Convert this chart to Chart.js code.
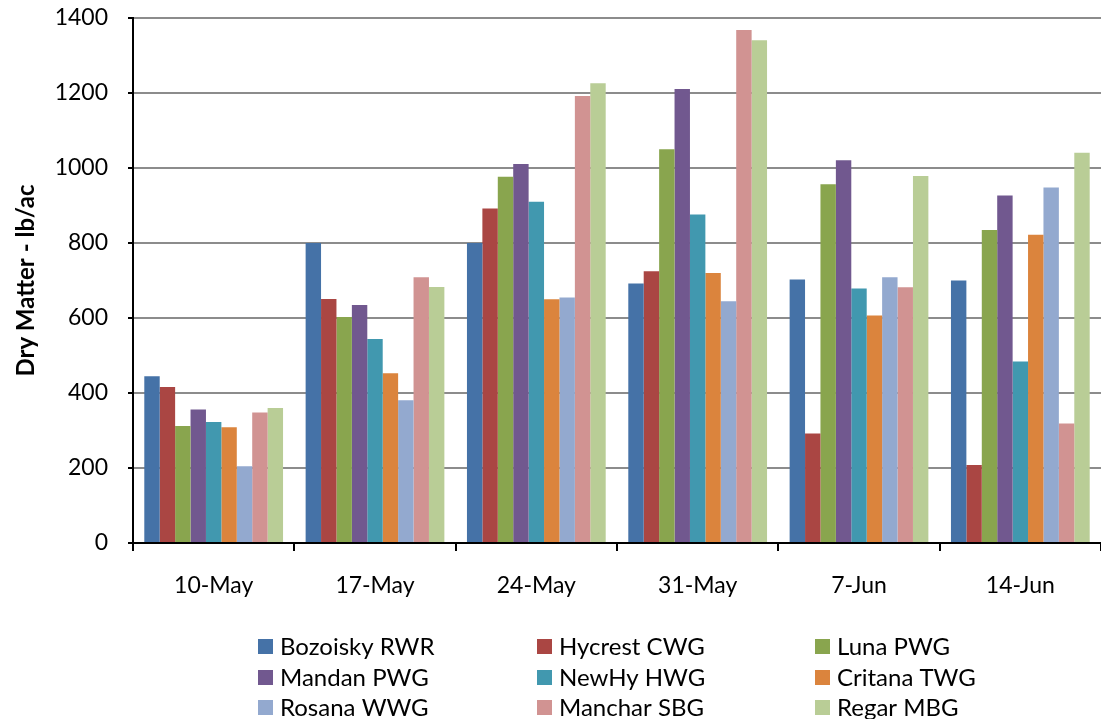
<!DOCTYPE html>
<html>
<head>
<meta charset="utf-8">
<script src="https://cdn.jsdelivr.net/npm/chart.js"></script>
<style>
  body { margin: 0; background: #fff; }
  #wrap { width: 1101px; height: 719px; }
</style>
</head>
<body>
<div id="wrap"><canvas id="dm" width="1101" height="719"></canvas></div>
<script>
// dry matter (lb/ac) by sampling date
const categories = ['10-May', '17-May', '24-May', '31-May', '7-Jun', '14-Jun'];
const yTicks = [0, 200, 400, 600, 800, 1000, 1200, 1400];

const bozoisky = [445, 800, 800, 692, 703, 700];
const hycrest  = [416, 651, 892, 725, 292, 208];
const luna     = [312, 603, 977, 1050, 957, 835];
const mandan   = [356, 635, 1011, 1211, 1021, 927];
const newhy    = [323, 544, 910, 876, 679, 484];
const critana  = [309, 453, 650, 720, 607, 822];
const rosana   = [205, 381, 655, 645, 709, 948];
const manchar  = [348, 709, 1192, 1368, 682, 319];
const regar    = [360, 683, 1226, 1341, 979, 1041];

const seriesNames = ['Bozoisky RWR', 'Hycrest CWG', 'Luna PWG', 'Mandan PWG', 'NewHy HWG',
                     'Critana TWG', 'Rosana WWG', 'Manchar SBG', 'Regar MBG'];
const seriesData = [bozoisky, hycrest, luna, mandan, newhy, critana, rosana, manchar, regar];
const colors = ['#4572A7', '#AA4643', '#89A54E', '#71588F', '#4198AF',
                '#DB843D', '#93A9CF', '#D19392', '#B9CD96'];

const FONT = 'Lato, "Open Sans", sans-serif';

// legend in three columns below the axis
const gridLegend = {
  id: 'gridLegend',
  afterDraw(chart) {
    const ctx = chart.ctx;
    const colX = [258, 537, 815];
    const rowY = [646, 677, 707];
    ctx.save();
    ctx.font = '24px ' + FONT;
    ctx.textBaseline = 'middle';
    ctx.textAlign = 'left';
    chart.data.datasets.forEach((ds, i) => {
      const x = colX[i % 3];
      const y = rowY[Math.floor(i / 3)];
      ctx.fillStyle = ds.backgroundColor;
      ctx.fillRect(x, y - 7, 15, 15);
      ctx.fillStyle = '#000';
      ctx.fillText(ds.label, x + 22, y + 1);
    });
    ctx.restore();
  }
};

new Chart(document.getElementById('dm'), {
  type: 'bar',
  data: {
    labels: categories,
    datasets: seriesNames.map((name, i) => ({
      label: name,
      data: seriesData[i],
      backgroundColor: colors[i],
      borderWidth: 0,
      categoryPercentage: 0.86,
      barPercentage: 1.0
    }))
  },
  options: {
    responsive: false,
    animation: false,
    layout: { padding: { left: 0, right: 0, top: 18, bottom: 116 } },
    plugins: {
      legend: { display: false },
      tooltip: { enabled: false }
    },
    scales: {
      x: {
        afterFit(scale) {
          scale.height = 60;
          scale.paddingLeft = 0;
          scale.paddingRight = 0;
        },
        grid: {
          drawOnChartArea: false,
          drawTicks: true,
          tickLength: 8,
          tickColor: '#000',
          lineWidth: 2,
          offset: true
        },
        border: { display: true, color: '#000', width: 2 },
        ticks: {
          color: '#000',
          padding: 21,
          font: { family: FONT, size: 23 }
        }
      },
      y: {
        min: 0,
        max: 1400,
        afterFit(scale) {
          scale.width = 133;
          scale.paddingTop = 0;
          scale.paddingBottom = 0;
        },
        afterBuildTicks(scale) { scale.ticks = yTicks.map(v => ({ value: v })); },
        grid: {
          color: (c) => c.tick && c.tick.value === 0 ? '#000' : '#8c8c8c',
          lineWidth: 2,
          tickLength: 5,
          tickColor: '#000'
        },
        border: { display: true, color: '#000', width: 2 },
        ticks: {
          color: '#000',
          padding: 20,
          callback: (v) => String(v),
          font: { family: FONT, size: 23 }
        },
        title: {
          display: true,
          text: 'Dry Matter - lb/ac',
          color: '#000',
          padding: { top: 12, bottom: 0 },
          font: { family: FONT, size: 24, weight: 'bold' }
        }
      }
    }
  },
  plugins: [gridLegend]
});
</script>
</body>
</html>
